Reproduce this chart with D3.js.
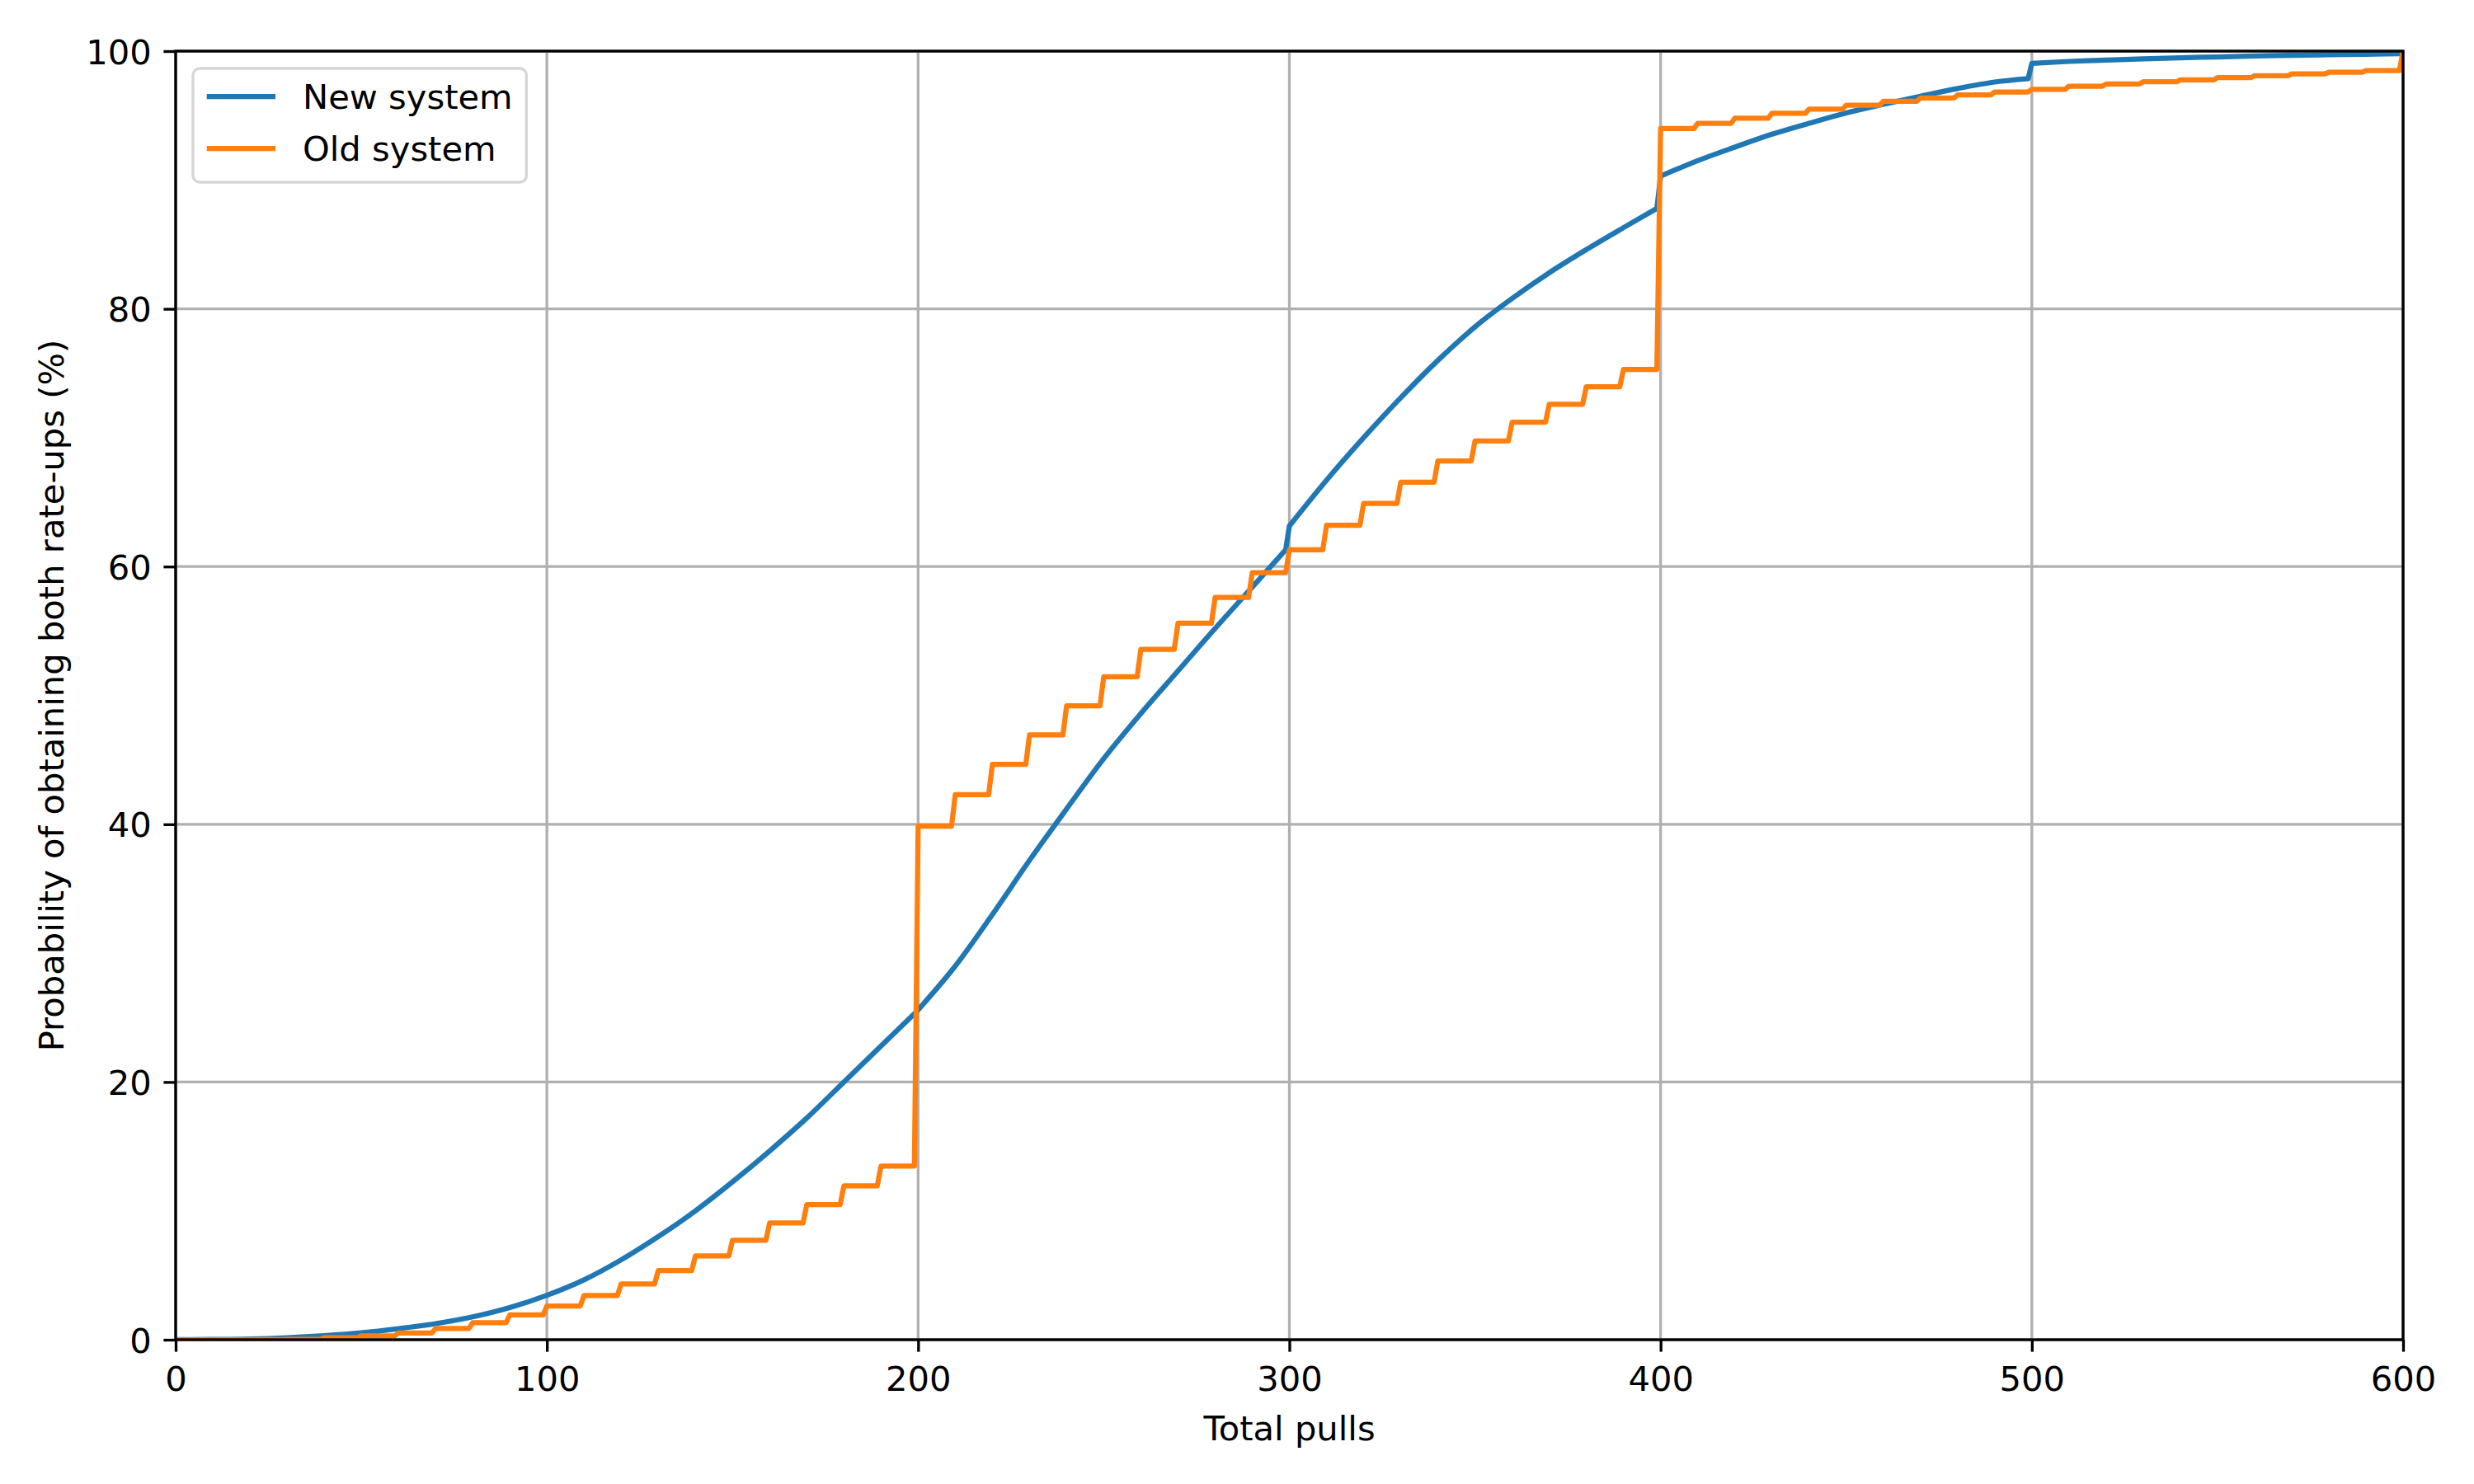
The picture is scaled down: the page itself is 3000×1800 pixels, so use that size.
<!DOCTYPE html>
<html>
<head>
<meta charset="utf-8">
<script src="https://cdn.jsdelivr.net/npm/d3@7"></script>
<style>
  html, body { margin: 0; padding: 0; background: #fff; overflow: hidden; }
  svg { display: block; }
  text { font-family: "DejaVu Sans", sans-serif; fill: #000; }
</style>
</head>
<body>
<div id="chart"></div>
<script>
// new system: cumulative probability at selected pull counts (jumps at 300/400/500)
var newPulls = [0, 10, 20, 30, 40, 50, 60, 70, 80, 90, 100, 110, 120, 130, 140, 150, 160, 170, 180, 190, 199, 200,
    210, 220, 230, 240, 250, 260, 270, 280, 290, 299, 300, 310, 320, 330, 340, 350, 360, 370, 380, 390, 399, 400,
    410, 420, 430, 440, 450, 460, 470, 480, 490, 499, 500, 510, 520, 530, 540, 550, 560, 570, 580, 590, 600];
var newValues = [0, 0.02, 0.06, 0.16, 0.32, 0.54, 0.86, 1.25, 1.78, 2.5, 3.45, 4.65, 6.2, 8.0, 10.0, 12.25, 14.65, 17.2, 20.0, 22.8, 25.3, 25.6,
    29.0, 33.0, 37.2, 41.2, 45.1, 48.6, 51.9, 55.2, 58.4, 61.3, 63.15, 66.7, 70.0, 73.1, 76.0, 78.6, 80.8, 82.8, 84.6, 86.3, 87.8, 90.3,
    91.5, 92.55, 93.55, 94.4, 95.2, 95.87, 96.5, 97.1, 97.6, 97.86, 99.05, 99.2, 99.3, 99.4, 99.48, 99.55, 99.62, 99.67, 99.72, 99.76, 99.8];
// pulls where the new curve restarts after a jump/kink
var newBreaks = [200, 300, 400, 500];

// old system: value held for each block of 10 pulls (block start), last entry is pull 600
var oldStarts = [0, 10, 20, 30, 40, 50, 60, 70, 80, 90, 100, 110, 120, 130, 140, 150, 160, 170, 180, 190,
    200, 210, 220, 230, 240, 250, 260, 270, 280, 290, 300, 310, 320, 330, 340, 350, 360, 370, 380, 390,
    400, 410, 420, 430, 440, 450, 460, 470, 480, 490, 500, 510, 520, 530, 540, 550, 560, 570, 580, 590, 600];
var oldValues = [0, 0, 0.01, 0.03, 0.15, 0.3, 0.52, 0.87, 1.32, 1.92, 2.62, 3.43, 4.33, 5.36, 6.5, 7.72, 9.06, 10.48, 11.94, 13.48,
    39.85, 42.3, 44.65, 46.93, 49.2, 51.45, 53.58, 55.6, 57.6, 59.52, 61.3, 63.2, 64.9, 66.55, 68.2, 69.75, 71.2, 72.6, 73.96, 75.3,
    93.99, 94.4, 94.8, 95.17, 95.5, 95.8, 96.1, 96.36, 96.6, 96.83, 97.04, 97.28, 97.45, 97.62, 97.77, 97.94, 98.09, 98.23, 98.36, 98.49, 100];

var xTicks = [0, 100, 200, 300, 400, 500, 600];
var yTicks = [0, 20, 40, 60, 80, 100];
var seriesNames = ["New system", "Old system"];
var seriesColors = ["#1f77b4", "#ff7f0e"];

var outerWidth = 3000;
var outerHeight = 1800;
var margin = { left: 213, top: 62, right: 86, bottom: 175 };
var innerWidth = outerWidth - margin.left - margin.right;
var innerHeight = outerHeight - margin.top - margin.bottom;
var fontSize = 41.67;
var tickLen = 14.6;
var lw = 3.33;

var svg = d3.select('#chart').append('svg')
    .attr('width', outerWidth)
    .attr('height', outerHeight);

svg.append('rect').attr('width', outerWidth).attr('height', outerHeight).attr('fill', '#fff');

var g = svg.append('g')
    .attr('transform', 'translate(' + margin.left + ',' + margin.top + ')');

var xScale = d3.scaleLinear().domain([0, 600]).range([0, innerWidth]);
var yScale = d3.scaleLinear().domain([0, 100]).range([innerHeight, 0]);

g.append('clipPath').attr('id', 'plotclip')
    .append('rect').attr('width', innerWidth).attr('height', innerHeight);

// grid
g.selectAll('.xgrid').data(xTicks).enter().append('line')
    .attr('x1', function (d) { return xScale(d); })
    .attr('x2', function (d) { return xScale(d); })
    .attr('y1', 0).attr('y2', innerHeight)
    .attr('stroke', '#b0b0b0').attr('stroke-width', lw);
g.selectAll('.ygrid').data(yTicks).enter().append('line')
    .attr('y1', function (d) { return yScale(d); })
    .attr('y2', function (d) { return yScale(d); })
    .attr('x1', 0).attr('x2', innerWidth)
    .attr('stroke', '#b0b0b0').attr('stroke-width', lw);

// series data
var newData = newPulls.map(function (p, i) { return [p, newValues[i]]; });
var oldData = [];
oldStarts.forEach(function (s, i) {
    oldData.push([s, oldValues[i]]);
    if (i < oldStarts.length - 1) oldData.push([s + 9, oldValues[i]]); // held until the next block
});

var smoothLine = d3.line()
    .curve(d3.curveMonotoneX)
    .x(function (d) { return xScale(d[0]); })
    .y(function (d) { return yScale(d[1]); });
var stepLine = d3.line()
    .x(function (d) { return xScale(d[0]); })
    .y(function (d) { return yScale(d[1]); });

// smooth each piece separately, join the pieces with straight segments
var bounds = [0].concat(newBreaks, [601]);
var newPath = '';
for (var b = 0; b < bounds.length - 1; b++) {
    var piece = newData.filter(function (d) { return d[0] >= bounds[b] && d[0] < bounds[b + 1]; });
    var seg = smoothLine(piece);
    newPath += b === 0 ? seg : seg.replace(/^M/, 'L');
}

var lines = g.append('g').attr('clip-path', 'url(#plotclip)');
lines.append('path')
    .attr('fill', 'none')
    .attr('stroke', seriesColors[0])
    .attr('stroke-width', 6.25)
    .attr('stroke-linejoin', 'round')
    .attr('d', newPath);
lines.append('path')
    .attr('fill', 'none')
    .attr('stroke', seriesColors[1])
    .attr('stroke-width', 6.25)
    .attr('stroke-linejoin', 'round')
    .attr('d', stepLine(oldData));

// axes
var xAxis = d3.axisBottom(xScale).tickValues(xTicks).tickSize(tickLen).tickPadding(tickLen)
    .tickFormat(d3.format('d'));
var yAxis = d3.axisLeft(yScale).tickValues(yTicks).tickSize(tickLen).tickPadding(tickLen)
    .tickFormat(d3.format('d'));

var xAxisG = g.append('g').attr('transform', 'translate(0,' + innerHeight + ')').call(xAxis);
var yAxisG = g.append('g').call(yAxis);

[xAxisG, yAxisG].forEach(function (ax) {
    ax.attr('font-family', 'DejaVu Sans').attr('font-size', fontSize);
    ax.select('.domain').remove();
    ax.selectAll('.tick line').attr('stroke', '#000').attr('stroke-width', lw);
    ax.selectAll('.tick text').attr('fill', '#000');
});
xAxisG.selectAll('.tick text').attr('dy', 32.5);
yAxisG.selectAll('.tick text').attr('dy', 15);

// spines
g.append('rect')
    .attr('width', innerWidth).attr('height', innerHeight)
    .attr('fill', 'none').attr('stroke', '#000').attr('stroke-width', lw)
    .attr('stroke-linejoin', 'miter');

// axis labels
svg.append('text')
    .attr('x', margin.left + innerWidth / 2)
    .attr('y', 1747)
    .attr('text-anchor', 'middle')
    .attr('font-size', fontSize)
    .text('Total pulls');

svg.append('text')
    .attr('transform', 'translate(77,' + (margin.top + innerHeight / 2) + ') rotate(-90)')
    .attr('text-anchor', 'middle')
    .attr('font-size', fontSize)
    .text('Probability of obtaining both rate-ups (%)');

// legend
var legend = g.append('g').attr('transform', 'translate(21,21)');
var legendBox = legend.append('rect')
    .attr('rx', 8).attr('ry', 8)
    .attr('fill', '#fff').attr('fill-opacity', 0.8)
    .attr('stroke', '#d6d6d6').attr('stroke-width', lw);

var maxText = 0;
seriesNames.forEach(function (name, i) {
    var yy = 34 + i * 63;
    legend.append('line')
        .attr('x1', 16.7).attr('x2', 100)
        .attr('y1', yy).attr('y2', yy)
        .attr('stroke', seriesColors[i]).attr('stroke-width', 6.25);
    var t = legend.append('text')
        .attr('x', 133)
        .attr('y', yy + 15)
        .attr('font-size', fontSize)
        .text(name);
    maxText = Math.max(maxText, t.node().getComputedTextLength());
});
legendBox.attr('width', 133 + maxText + 16.7).attr('height', 138);
</script>
</body>
</html>
